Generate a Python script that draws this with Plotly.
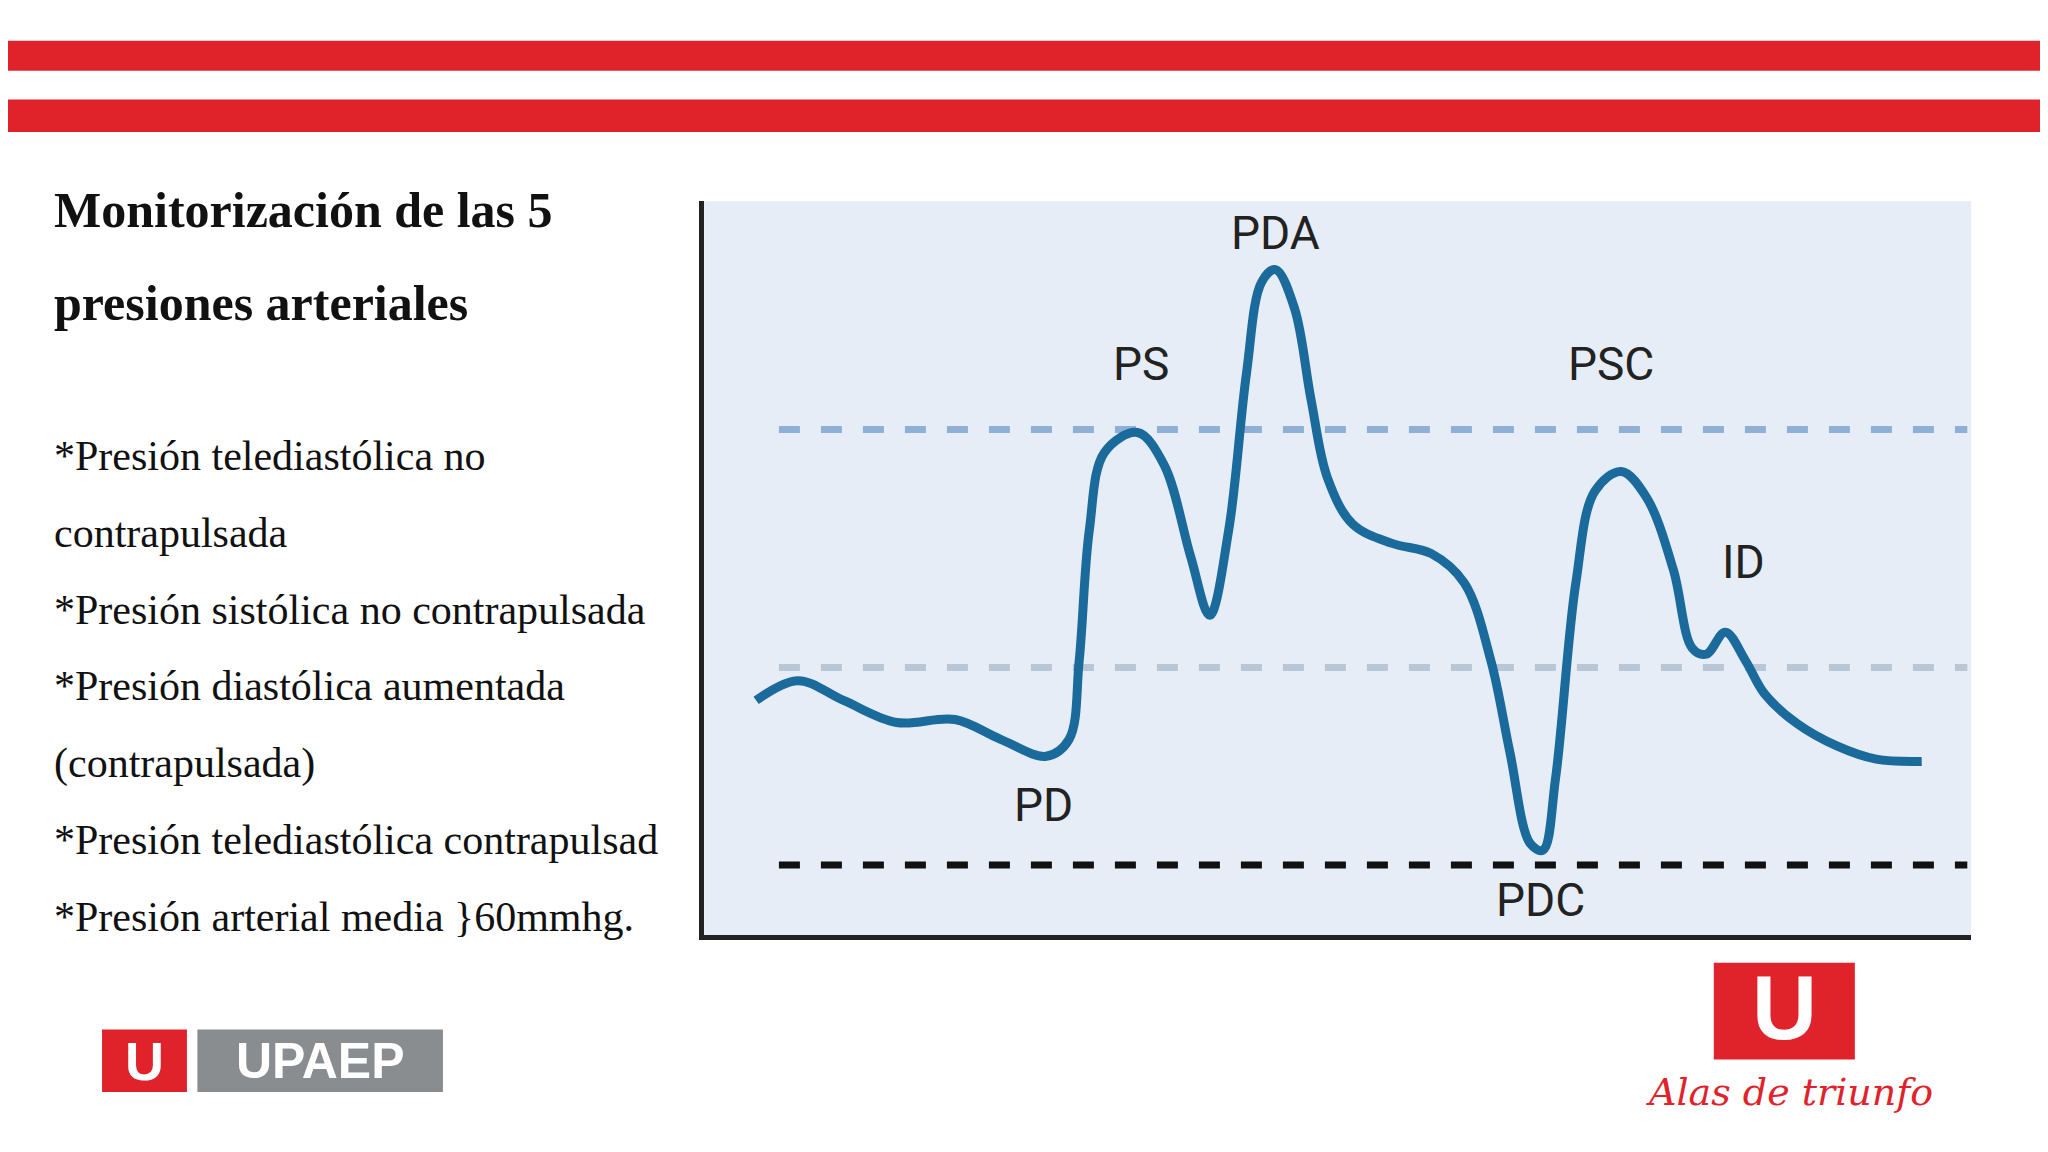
import plotly.graph_objects as go

# curve (chart units 0-100)
curve_x = [4.1, 7.4, 11.0, 15.2, 19.8, 23.4, 27.0, 28.8, 29.6, 30.4, 31.6, 34.2, 36.3, 38.4, 39.9,
           41.4, 42.8, 44.0, 45.1, 46.6, 47.9, 49.2, 51.2, 54.3, 57.4, 60.0, 62.1, 63.6, 65.2, 66.2,
           67.2, 68.8, 70.3, 72.4, 74.4, 76.5, 78.0, 79.1, 80.6, 82.2, 83.7, 86.3, 89.4, 92.5, 96.1]
curve_y = [32.0, 34.7, 32.0, 29.0, 29.4, 26.7, 24.4, 26.7, 37.4, 55.2, 65.8, 68.5, 64.1, 51.6, 43.6,
           55.2, 76.5, 89.0, 90.7, 85.4, 73.0, 62.3, 56.0, 53.4, 52.0, 48.0, 37.4, 24.9, 12.5, 11.6,
           21.4, 48.0, 60.5, 63.2, 59.6, 49.8, 39.1, 38.3, 41.3, 37.4, 32.9, 28.8, 25.8, 24.0, 23.7]

ref_levels = [68.9, 36.5, 9.6]
ref_colors = ["#8fb0d6", "#b8c6d6", "#111111"]
ref_x = [5.9, 99.7]

point_labels = ["PDA", "PS", "PSC", "ID", "PD", "PDC"]
label_x = [45.1, 34.5, 71.6, 82.0, 26.8, 66.0]
label_y = [95.7, 77.8, 77.8, 50.9, 17.8, 4.8]

title_lines = ["Monitorización de las 5", "presiones arteriales"]
body_lines = ["*Presión telediastólica no", "contrapulsada", "*Presión sistólica no contrapulsada",
              "*Presión diastólica aumentada", "(contrapulsada)",
              "*Presión telediastólica contrapulsad", "*Presión arterial media }60mmhg."]

W, H = 1568, 882  # layout units of the source slide


def px(v):
    return v / W


def py(v):
    return 1 - v / H


fig = go.Figure()

for lvl, col in zip(ref_levels, ref_colors):
    fig.add_trace(go.Scatter(x=ref_x, y=[lvl, lvl], mode="lines",
                             line=dict(color=col, width=7, dash="dash"), hoverinfo="skip"))

fig.add_trace(go.Scatter(x=curve_x, y=curve_y, mode="lines", line=dict(color="#1b6a9c", width=9, shape="spline"),
                         hoverinfo="skip"))

for t, lx, ly in zip(point_labels, label_x, label_y):
    fig.add_annotation(x=lx, y=ly, text=t, showarrow=False, xanchor="center", yanchor="middle",
                       font=dict(family="Roboto", size=46, color="#222"))

shapes = []
# red bars at the top
for y0, y1 in [(25, 48), (70, 95)]:
    shapes.append(dict(type="rect", xref="paper", yref="paper", x0=0, x1=1, y0=py(y1), y1=py(y0),
                       fillcolor="#e0232b", line_width=0, layer="below"))
# logos
shapes.append(dict(type="rect", xref="paper", yref="paper", x0=px(72), x1=px(137), y0=py(830), y1=py(782),
                   fillcolor="#e0232b", line_width=0, layer="below"))
shapes.append(dict(type="rect", xref="paper", yref="paper", x0=px(145), x1=px(333), y0=py(830), y1=py(782),
                   fillcolor="#8a8d90", line_width=0, layer="below"))
shapes.append(dict(type="rect", xref="paper", yref="paper", x0=px(1306), x1=px(1414), y0=py(805), y1=py(731),
                   fillcolor="#e0232b", line_width=0, layer="below"))

annotations = []
for i, t in enumerate(title_lines):
    annotations.append(dict(xref="paper", yref="paper", x=px(34), y=py(155 + 71 * i), text=f"<b>{t}</b>",
                            showarrow=False, xanchor="left", yanchor="middle",
                            font=dict(family="Liberation Serif", size=50, color="#111")))
for i, t in enumerate(body_lines):
    annotations.append(dict(xref="paper", yref="paper", x=px(34), y=py(343 + 58.8 * i), text=t,
                            showarrow=False, xanchor="left", yanchor="middle",
                            font=dict(family="Liberation Serif", size=42, color="#111")))
logo_texts = [("<b>U</b>", 104.5, 806, 54, "Liberation Sans", "white"),
              ("<b>UPAEP</b>", 239, 806, 50, "Liberation Sans", "white"),
              ("<b>U</b>", 1360, 766, 90, "Liberation Sans", "white"),
              ("<i>Alas de triunfo</i>", 1364, 830, 38, "DejaVu Serif", "#e0232b")]
for t, x, y, s, fam, col in logo_texts:
    annotations.append(dict(xref="paper", yref="paper", x=px(x), y=py(y), text=t, showarrow=False,
                            xanchor="center", yanchor="middle", font=dict(family=fam, size=s, color=col)))

fig.update_layout(
    width=2048, height=1152, margin=dict(l=0, r=0, t=0, b=0),
    paper_bgcolor="white", plot_bgcolor="#e6edf6", showlegend=False,
    shapes=shapes, annotations=fig.layout.annotations + tuple(annotations),
    xaxis=dict(domain=[px(533), px(1503)], range=[0, 100], showgrid=False, zeroline=False,
               showticklabels=False, showline=True, linecolor="#222", linewidth=5),
    yaxis=dict(domain=[py(710), py(148)], range=[0, 100], showgrid=False, zeroline=False,
               showticklabels=False, showline=True, linecolor="#222", linewidth=5),
)

fig.write_html("out.html")
